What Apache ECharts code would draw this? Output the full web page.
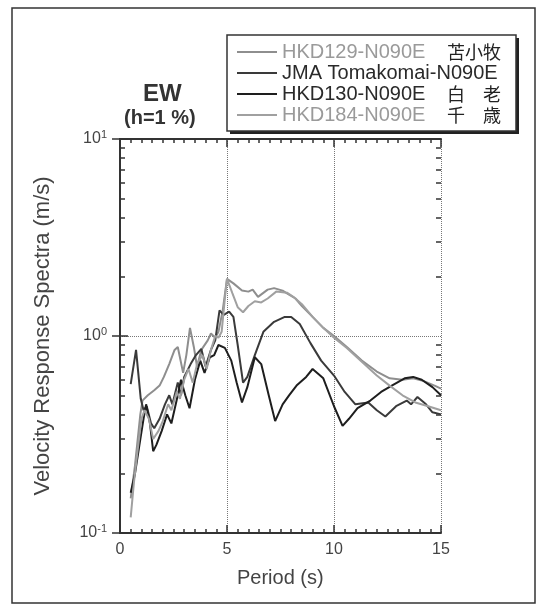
<!DOCTYPE html>
<html>
<head>
<meta charset="utf-8">
<script src="https://cdn.jsdelivr.net/npm/echarts@6/dist/echarts.min.js"></script>
<style>
html, body { margin: 0; background: #fff; }
#chart { width: 548px; height: 612px; }
</style>
</head>
<body>
<div id="chart"></div>
<script>
// station names: code part + japanese place name
var codes = ['HKD129-N090E', 'JMA Tomakomai-N090E', 'HKD130-N090E', 'HKD184-N090E'];
var places = ['苫小牧', '', '白　老', '千　歳'];
var colors = ['#8e8e8e', '#3a3a3a', '#1e1e1e', '#a0a0a0'];

// period (s) / velocity response (m/s)
var t129 = [0.5, 0.7, 0.95, 1.05, 1.3, 1.6, 1.85, 2.05, 2.3, 2.55, 2.7, 2.95, 3.1, 3.27, 3.45, 3.6, 3.8, 4.1, 4.25, 4.45, 4.6, 4.8, 5.0, 5.3, 5.7, 6.0, 6.2, 6.45, 6.9, 7.2, 7.6, 7.9, 8.2, 8.5, 9.0, 9.5, 10.0, 10.6, 11.3, 12.0, 12.6, 13.2, 13.7, 14.2, 14.7, 15.0];
var v129 = [0.15, 0.22, 0.40, 0.47, 0.50, 0.53, 0.56, 0.62, 0.72, 0.85, 0.88, 0.65, 0.80, 1.10, 0.88, 0.70, 0.85, 0.95, 1.03, 0.98, 1.05, 1.35, 1.95, 1.85, 1.70, 1.68, 1.72, 1.58, 1.72, 1.75, 1.70, 1.62, 1.55, 1.42, 1.25, 1.10, 1.00, 0.88, 0.75, 0.66, 0.61, 0.60, 0.61, 0.59, 0.56, 0.54];

var tJma = [0.5, 0.75, 0.97, 1.1, 1.25, 1.45, 1.6, 1.85, 2.1, 2.3, 2.45, 2.7, 2.85, 3.0, 3.3, 3.55, 3.8, 4.0, 4.25, 4.45, 4.65, 4.85, 5.1, 5.3, 5.5, 5.75, 5.95, 6.3, 6.7, 7.2, 7.7, 8.0, 8.4, 8.9, 9.4, 10.0, 10.5, 11.0, 11.6, 12.0, 12.4, 12.9, 13.4, 13.6, 13.9, 14.3, 14.6, 15.0];
var vJma = [0.57, 0.85, 0.48, 0.42, 0.44, 0.36, 0.34, 0.38, 0.45, 0.50, 0.45, 0.58, 0.50, 0.62, 0.72, 0.80, 0.86, 0.70, 0.85, 0.95, 1.35, 1.28, 1.33, 1.25, 0.90, 0.58, 0.62, 0.80, 1.05, 1.18, 1.25, 1.25, 1.15, 0.92, 0.75, 0.63, 0.52, 0.45, 0.46, 0.42, 0.39, 0.44, 0.47, 0.45, 0.49, 0.45, 0.41, 0.40];

var t130 = [0.5, 0.7, 0.95, 1.1, 1.22, 1.4, 1.55, 1.7, 1.95, 2.2, 2.4, 2.7, 2.85, 3.05, 3.25, 3.5, 3.75, 3.95, 4.2, 4.4, 4.6, 4.9, 5.2, 5.45, 5.7, 5.95, 6.3, 6.6, 6.95, 7.25, 7.6, 7.9, 8.25, 8.7, 9.0, 9.5, 10.0, 10.4, 10.7, 11.1, 11.7, 12.2, 12.7, 13.3, 13.7, 14.1, 14.6, 15.0];
var v130 = [0.16, 0.20, 0.30, 0.38, 0.45, 0.36, 0.26, 0.28, 0.33, 0.40, 0.36, 0.50, 0.60, 0.50, 0.43, 0.60, 0.75, 0.65, 0.78, 0.80, 0.90, 0.87, 0.75, 0.58, 0.46, 0.55, 0.78, 0.72, 0.50, 0.37, 0.45, 0.50, 0.56, 0.62, 0.68, 0.61, 0.44, 0.35, 0.38, 0.43, 0.47, 0.52, 0.56, 0.61, 0.62, 0.60, 0.55, 0.50];

var t184 = [0.5, 0.65, 0.8, 1.0, 1.15, 1.35, 1.55, 1.8, 2.0, 2.25, 2.4, 2.65, 2.8, 3.0, 3.2, 3.4, 3.6, 3.85, 4.05, 4.25, 4.45, 4.6, 4.75, 4.9, 5.0, 5.25, 5.5, 5.75, 6.0, 6.3, 6.6, 6.9, 7.3, 7.8, 8.1, 8.5, 9.0, 9.5, 10.0, 10.6, 11.3, 12.0, 12.6, 13.2, 13.8, 14.4, 15.0];
var v184 = [0.12, 0.18, 0.25, 0.38, 0.42, 0.38, 0.30, 0.33, 0.37, 0.45, 0.42, 0.52, 0.48, 0.60, 0.68, 0.58, 0.72, 0.80, 0.68, 0.85, 1.00, 0.98, 1.05, 1.55, 1.95, 1.65, 1.40, 1.32, 1.42, 1.50, 1.48, 1.55, 1.68, 1.66, 1.58, 1.45, 1.25, 1.10, 0.98, 0.87, 0.74, 0.63, 0.56, 0.50, 0.46, 0.44, 0.42];

var yMinor = [0.2, 0.3, 0.4, 0.5, 0.6, 0.7, 0.8, 0.9, 2, 3, 4, 5, 6, 7, 8, 9];

var allT = [t129, tJma, t130, t184];
var allV = [v129, vJma, v130, v184];

function zip(t, v) {
    var out = [];
    for (var i = 0; i < t.length; i++) out.push([t[i], v[i]]);
    return out;
}

var seriesNames = codes.map(function (c, i) { return c + ' ' + places[i]; });

var axisCol = '#333';

function yAxisMain(pos) {
    return {
        type: 'log', logBase: 10, min: 0.1, max: 10, position: pos,
        axisLine: { show: true, lineStyle: { color: axisCol, width: 2 } },
        axisTick: { show: true, inside: true, length: 8, lineStyle: { color: axisCol, width: 1.5 } },
        axisLabel: pos === 'left' ? {
            margin: 13,
            formatter: function (v) {
                return '{b|10}{s|' + Math.round(Math.log10(v)) + '}';
            },
            rich: {
                b: { fontSize: 16, fontFamily: 'Liberation Sans', color: '#444', lineHeight: 20 },
                s: { fontSize: 11, fontFamily: 'Liberation Sans', color: '#444', verticalAlign: 'top', lineHeight: 12 }
            }
        } : { show: false },
        splitLine: pos === 'left' ? { show: true, lineStyle: { color: '#777', type: 'dotted', width: 1 } } : { show: false }
    };
}
function yAxisMinor(pos) {
    return {
        type: 'log', logBase: 10, min: 0.1, max: 10, position: pos,
        axisLine: { show: false },
        axisLabel: { show: false },
        splitLine: { show: false },
        axisTick: { show: true, inside: true, length: 5, customValues: yMinor, lineStyle: { color: axisCol, width: 1.5 } }
    };
}
function xAxisDef(pos) {
    return {
        type: 'value', min: 0, max: 15, interval: 5, position: pos,
        axisLine: { show: true, lineStyle: { color: axisCol, width: 2 } },
        axisTick: { show: true, inside: true, length: 8, lineStyle: { color: axisCol, width: 1.5 } },
        minorTick: { show: true, splitNumber: 10, length: 4, lineStyle: { color: axisCol, width: 1.5 } },
        axisLabel: pos === 'bottom' ? { fontSize: 16, fontFamily: 'Liberation Sans', color: '#444', margin: 9 } : { show: false },
        splitLine: pos === 'bottom' ? { show: true, lineStyle: { color: '#777', type: 'dotted', width: 1 } } : { show: false }
    };
}

var richLegend = {
    g: { fontSize: 20, fontFamily: 'Liberation Sans', color: '#9a9a9a', width: 165, lineHeight: 20 },
    k: { fontSize: 20, fontFamily: 'Liberation Sans', color: '#2a2a2a', width: 165, lineHeight: 20 },
    j: { fontSize: 18, fontFamily: 'Noto Sans CJK JP', color: '#222', lineHeight: 20 }
};
var legendTone = ['g', 'k', 'k', 'g'];

var chart = echarts.init(document.getElementById('chart'));
var option = {
    animation: false,
    backgroundColor: '#fff',
    grid: { left: 120, right: 107, top: 139, bottom: 79, containLabel: false },
    xAxis: [xAxisDef('bottom'), xAxisDef('top')],
    yAxis: [yAxisMain('left'), yAxisMain('right'), yAxisMinor('left'), yAxisMinor('right')],
    legend: {
        orient: 'vertical', left: 232, top: 37,
        icon: 'rect', itemWidth: 40, itemHeight: 2, itemGap: 1,
        data: seriesNames,
        formatter: function (name) {
            var i = seriesNames.indexOf(name);
            return '{' + legendTone[i] + '|' + codes[i] + '}' + (places[i] ? '{j|' + places[i] + '}' : '');
        },
        textStyle: { rich: richLegend }
    },
    graphic: [
        { type: 'rect', z: 1, shape: { x: 12, y: 8, width: 523, height: 595 },
          style: { fill: 'none', stroke: '#333', lineWidth: 1.5 } },
        // legend box with a hard drop shadow
        { type: 'rect', z: 1, shape: { x: 230, y: 38, width: 289, height: 96 },
          style: { fill: '#222' } },
        { type: 'rect', z: 2, shape: { x: 227, y: 35, width: 289, height: 96 },
          style: { fill: '#fff', stroke: '#333', lineWidth: 1.5 } },
        { type: 'text', left: 143, top: 82, style: { text: 'EW', font: 'bold 24px "Liberation Sans"', fill: '#333' } },
        { type: 'text', left: 124, top: 108, style: { text: '(h=1 %)', font: 'bold 20px "Liberation Sans"', fill: '#333' } },
        { type: 'text', x: 32, y: 336, rotation: Math.PI / 2,
          style: { text: 'Velocity Response Spectra (m/s)', font: '22px "Liberation Sans"', fill: '#444', align: 'center', verticalAlign: 'top' } },
        { type: 'text', left: 237, top: 568, style: { text: 'Period (s)', font: '20px "Liberation Sans"', fill: '#444' } }
    ],
    series: allT.map(function (t, i) {
        return {
            name: seriesNames[i],
            type: 'line',
            symbol: 'none',
            xAxisIndex: 0, yAxisIndex: 0,
            color: colors[i],
            lineStyle: { width: 2, color: colors[i] },
            data: zip(t, allV[i])
        };
    })
};
chart.setOption(option);
</script>
</body>
</html>
